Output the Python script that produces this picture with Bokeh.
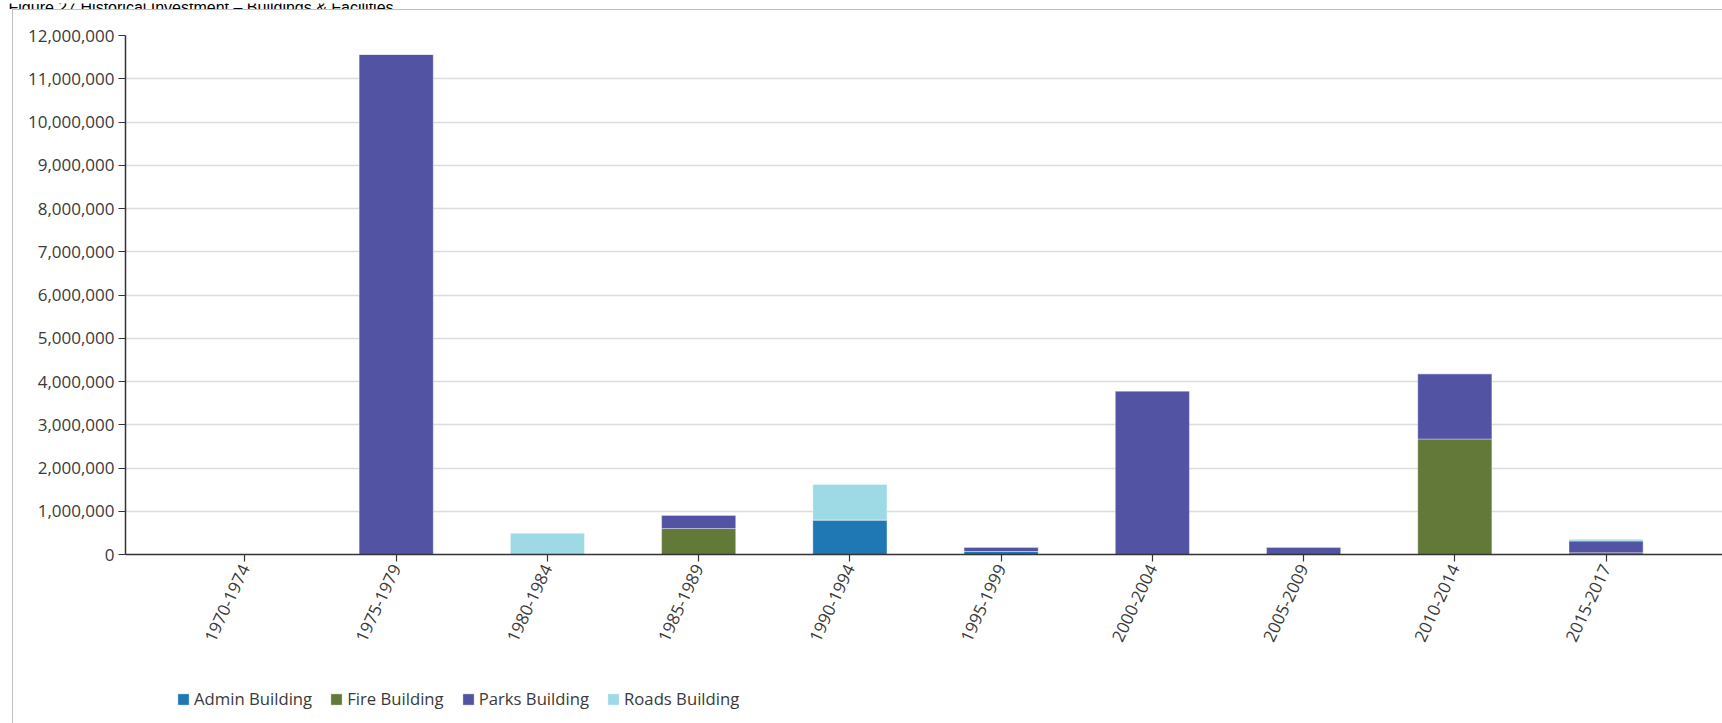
from bokeh.plotting import figure
from bokeh.layouts import column
from bokeh.models import (Range1d, FixedTicker, NumeralTickFormatter, Label,
                          Legend, LegendItem, ColumnDataSource, InlineStyleSheet)
from bokeh.embed import file_html
from bokeh.resources import INLINE

title_text = "Figure 27 Historical Investment \u2013 Buildings & Facilities"
periods = ["1970-1974", "1975-1979", "1980-1984", "1985-1989", "1990-1994",
           "1995-1999", "2000-2004", "2005-2009", "2010-2014", "2015-2017"]
admin = [0, 0, 0, 0, 800000, 70000, 0, 0, 0, 0]
fire = [0, 0, 0, 600000, 0, 0, 0, 0, 2670000, 40000]
parks = [0, 11560000, 0, 310000, 0, 100000, 3780000, 170000, 1510000, 270000]
roads = [0, 0, 490000, 0, 820000, 0, 0, 0, 0, 40000]
series_keys = ["admin", "fire", "parks", "roads"]
series_names = ["Admin Building", "Fire Building", "Parks Building", "Roads Building"]
series_colors = ["#1f77b4", "#637939", "#5254a3", "#9edae5"]
y_ticks = [0, 1000000, 2000000, 3000000, 4000000, 5000000, 6000000,
           7000000, 8000000, 9000000, 10000000, 11000000, 12000000]

W, H = 1722, 723
CAP_H, LEG_H = 9, 60
MAIN_H = H - CAP_H - LEG_H
FL = 125                  # frame left of the main chart
FT_ABS, FB_ABS = 35, 554  # frame top / bottom in page pixels
BAR_W = 0.49
TICK_FONT = "17px"
LEGEND_FONT = "16.7px"

positions = list(range(len(periods)))
source = ColumnDataSource(dict(x=positions, admin=admin, fire=fire, parks=parks, roads=roads))

# ---------- caption strip (text is clipped at the top of the page) ----------
cap = figure(width=W, height=CAP_H, output_backend="svg", toolbar_location=None,
             x_range=Range1d(0, 1), y_range=Range1d(0, 1),
             x_axis_type=None, y_axis_type=None, min_border=0)
cap.outline_line_color = None
cap.grid.visible = False
cap_x = 8 - FL
if "frame_align" in cap.properties():
    cap.frame_align = False
    cap_x = 8
cap.add_layout(Label(x=cap_x, y=CAP_H - 4, x_units="screen", y_units="screen",
                     text=title_text, text_font="Liberation Sans", text_font_size="16px",
                     text_color="black", text_baseline="alphabetic"))

# ---------- main chart ----------
p = figure(width=W, height=MAIN_H, output_backend="svg", toolbar_location=None,
           x_range=Range1d(-0.79, 9.77), y_range=Range1d(0, y_ticks[-1]),
           min_border_left=FL, min_border_right=0, min_border_top=FT_ABS - CAP_H,
           min_border_bottom=MAIN_H - (FB_ABS - CAP_H))
p.outline_line_color = None
p.background_fill_color = "white"
p.border_fill_color = "white"

renderers = p.vbar_stack(series_keys, x="x", width=BAR_W,
                         color=series_colors, source=source,
                         line_color="white", line_alpha=0.35, line_width=1)

p.xgrid.grid_line_color = None
p.ygrid.grid_line_color = "#dcdcdc"
p.ygrid.grid_line_width = 1.5

p.yaxis.ticker = FixedTicker(ticks=y_ticks)
p.yaxis.formatter = NumeralTickFormatter(format="0,0")
p.xaxis.ticker = FixedTicker(ticks=positions)
p.xaxis.major_label_overrides = {i: lab for i, lab in zip(positions, periods)}
p.xaxis.major_label_orientation = 1.13

for ax in (p.xaxis[0], p.yaxis[0]):
    ax.axis_line_color = "#333333"
    ax.axis_line_width = 1.5
    ax.major_tick_line_color = "#333333"
    ax.major_tick_line_width = 1.2
    ax.major_tick_in = 0
    ax.major_tick_out = 7
    ax.minor_tick_line_color = None
    ax.major_label_text_font = "Open Sans"
    ax.major_label_text_font_size = TICK_FONT
    ax.major_label_text_color = "#3a3a3a"
    ax.major_label_standoff = 4

# ---------- legend strip ----------
leg = figure(width=W, height=LEG_H, output_backend="svg", toolbar_location=None,
             x_range=Range1d(0, 1), y_range=Range1d(0, 1),
             x_axis_type=None, y_axis_type=None, min_border=0)
leg.outline_line_color = None
leg.grid.visible = False
# hidden copies of the series, used only to draw the legend swatches
leg_renderers = [leg.vbar(x="x", top=k, width=BAR_W, source=source, color=c,
                          line_color="white", line_alpha=0.35, line_width=1, visible=False)
                 for k, c in zip(series_keys, series_colors)]
legend = Legend(items=[LegendItem(label=n, renderers=[r]) for n, r in zip(series_names, leg_renderers)],
                orientation="horizontal", location=(176 - FL, 13),
                glyph_width=14, glyph_height=14, label_height=14, label_standoff=4,
                spacing=17, padding=0, margin=0, border_line_color=None,
                background_fill_alpha=0, inactive_fill_alpha=0,
                label_text_font="Open Sans", label_text_font_size=LEGEND_FONT,
                label_text_color="#3a3a3a")
leg.add_layout(legend)

page = column(cap, p, leg, spacing=0)
# grey frame of the figure container (left and top edges)
page.stylesheets = [InlineStyleSheet(css=(
    ":host::after { content: ''; position: absolute; left: 12px; top: 9px; right: 0; bottom: 0;"
    " border-left: 1.5px solid #c0c0c0; border-top: 1.5px solid #c0c0c0; pointer-events: none; }"))]

open("out.html", "w").write(file_html(page, INLINE))
